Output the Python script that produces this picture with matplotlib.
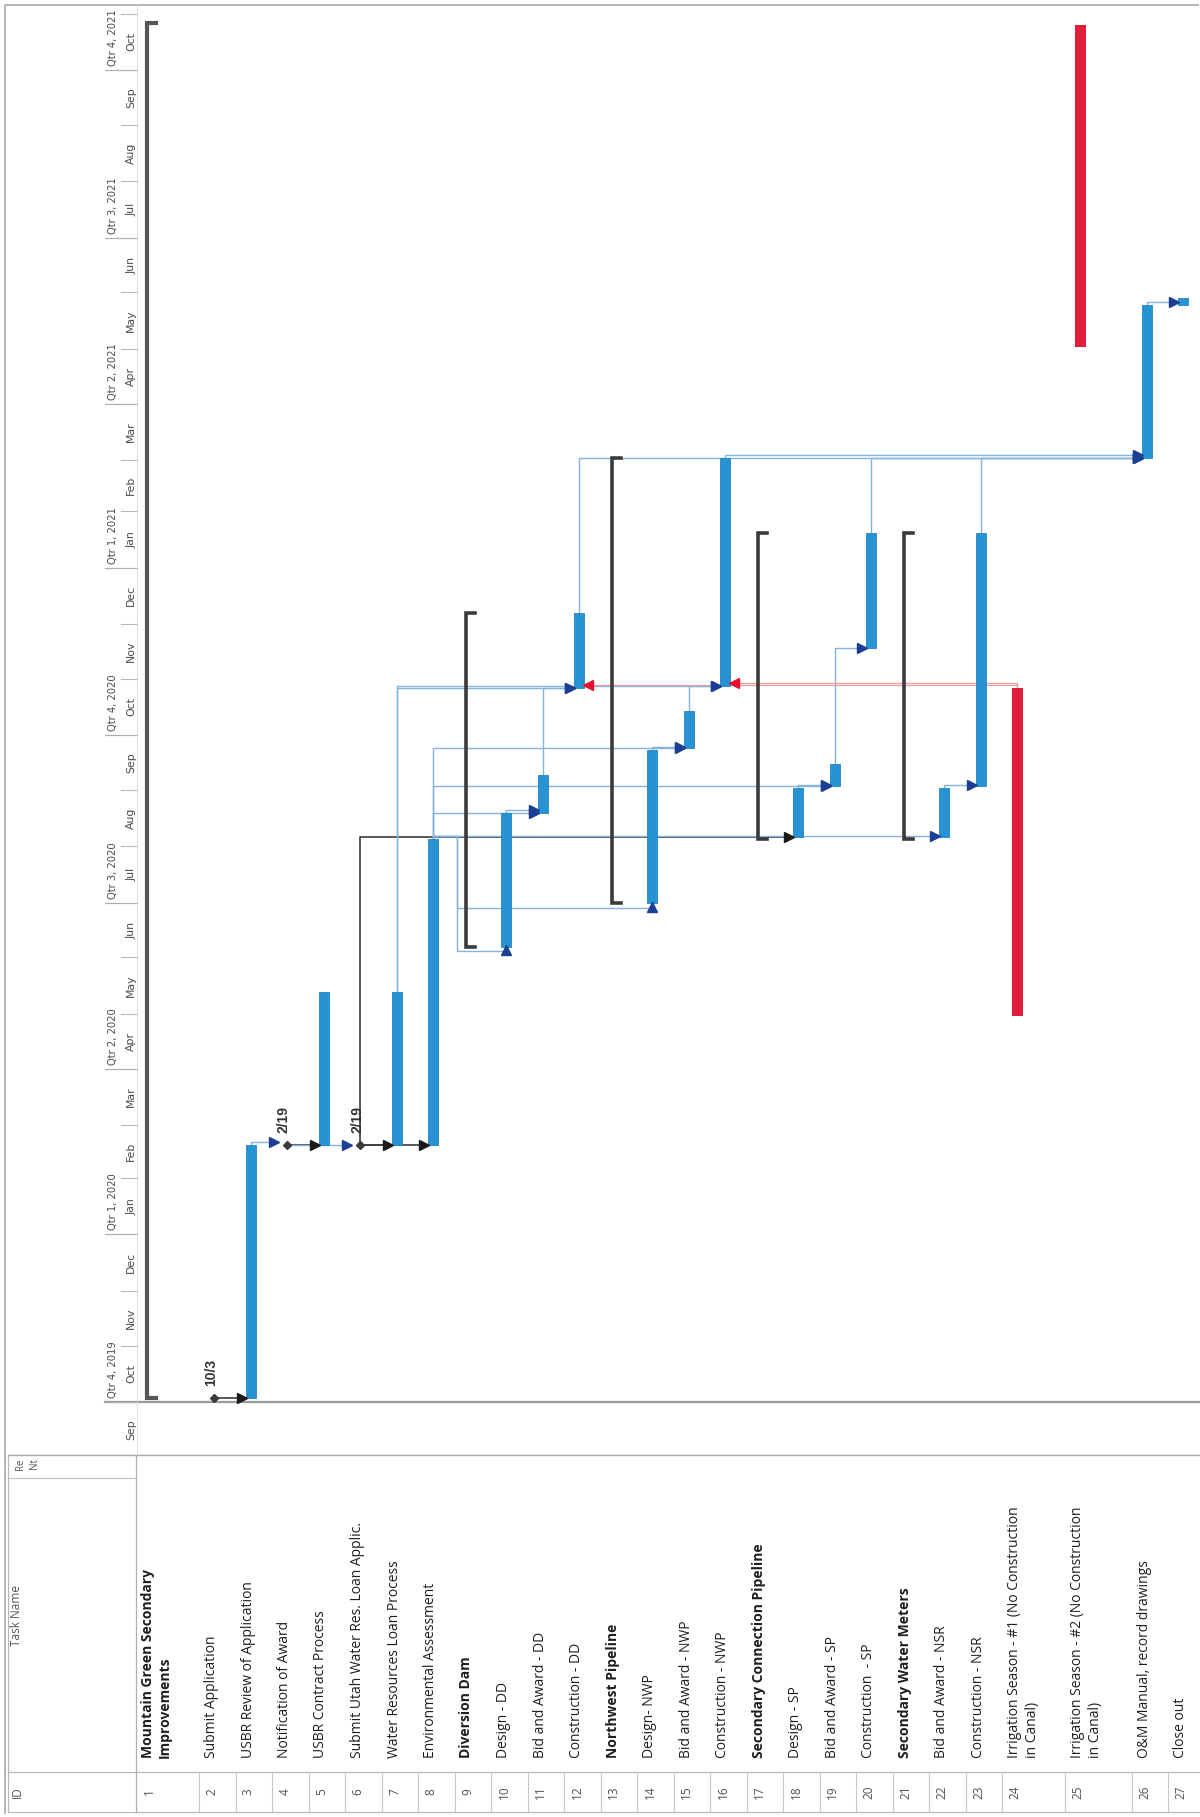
import numpy as np
import pandas as pd
import matplotlib
matplotlib.use("Agg")
import matplotlib.pyplot as plt
import matplotlib.dates as mdates

plt.rcParams['font.family'] = ['Open Sans', 'DejaVu Sans']

# ---------------- data ----------------
task_ids = list(range(1, 28))
task_names = [
    "Mountain Green Secondary\nImprovements",
    "Submit Application",
    "USBR Review of Application",
    "Notification of Award",
    "USBR Contract Process",
    "Submit Utah Water Res. Loan Applic.",
    "Water Resources Loan Process",
    "Environmental Assessment",
    "Diversion Dam",
    "Design - DD",
    "Bid and Award - DD",
    "Construction - DD",
    "Northwest Pipeline",
    "Design- NWP",
    "Bid and Award - NWP",
    "Construction - NWP",
    "Secondary Connection Pipeline",
    "Design - SP",
    "Bid and Award - SP",
    "Construction  - SP",
    "Secondary Water Meters",
    "Bid and Award - NSR",
    "Construction - NSR",
    "Irrigation Season - #1 (No Construction\nin Canal)",
    "Irrigation Season - #2 (No Construction\nin Canal)",
    "O&M Manual, record drawings",
    "Close out",
]
task_types = ['summary', 'milestone', 'task', 'milestone', 'task', 'milestone', 'task', 'task',
              'summary', 'task', 'task', 'task', 'summary', 'task', 'task', 'task',
              'summary', 'task', 'task', 'task', 'summary', 'task', 'task',
              'season', 'season', 'task', 'task']
task_start = ['2019-10-03', '2019-10-03', '2019-10-03', '2020-02-19', '2020-02-19', '2020-02-19',
              '2020-02-19', '2020-02-19', '2020-06-07', '2020-06-07', '2020-08-19', '2020-10-27',
              '2020-07-01', '2020-07-01', '2020-09-24', '2020-10-28', '2020-08-05', '2020-08-06',
              '2020-09-03', '2020-11-18', '2020-08-05', '2020-08-06', '2020-09-03', '2020-04-30',
              '2021-05-02', '2021-03-02', '2021-05-25']
task_finish = ['2021-10-27', '2019-10-03', '2020-02-19', '2020-02-19', '2020-05-13', '2020-02-19',
               '2020-05-13', '2020-08-05', '2020-12-07', '2020-08-19', '2020-09-09', '2020-12-07',
               '2021-03-02', '2020-09-23', '2020-10-14', '2021-03-02', '2021-01-20', '2020-09-02',
               '2020-09-15', '2021-01-20', '2021-01-20', '2020-09-02', '2021-01-20', '2020-10-27',
               '2021-10-26', '2021-05-25', '2021-05-29']
milestone_labels = {2: "10/3", 4: "2/19", 6: "2/19"}

links_pred = [2, 3, 4, 4, 6, 6, 6, 7, 7, 8, 8, 8, 8, 8, 8, 10, 11, 14, 15, 18, 19, 22, 24, 24, 12, 16, 20, 23, 26]
links_succ = [3, 4, 5, 6, 7, 8, 18, 12, 16, 11, 15, 19, 22, 10, 14, 11, 12, 15, 16, 19, 20, 23, 12, 16, 26, 26, 26, 26, 27]
links_color = ['k', 'b', 'k', 'b', 'k', 'k', 'k', 'b', 'b', 'b', 'b', 'b', 'b', 'b', 'b', 'b', 'b', 'b', 'b',
               'b', 'b', 'b', 'r', 'r', 'b', 'b', 'b', 'b', 'b']

# ---------------- layout / style ----------------
W, H, DPI = 1200, 1817, 100
GT, GB = 5, 1455          # gantt area top / bottom (px)
Y_REF_PX, PPD = 1402, 1.822   # px of 2019-10-01 and px per day
row_h = np.array([63] + [36.5] * 22 + [63, 67, 36, 36])
row_x0 = 136 + np.concatenate([[0], np.cumsum(row_h)[:-1]])
bar_x = row_x0 + 15
sum_x = row_x0 + 11

BAR_BLUE = '#2893d2'
RED = '#e11d3c'
SUM_COL = '#3b3b3b'
LINK = {'b': ('#86b3de', '#1c3f94', 1.0),
        'k': ('#3c3c3c', '#1a1a1a', 1.2),
        'r': ('#f19a9a', '#e8102e', 0.9)}

start_num = mdates.date2num(pd.to_datetime(task_start))
fin_num = mdates.date2num(pd.to_datetime(task_finish))
ref = mdates.date2num(pd.Timestamp('2019-10-01'))

fig = plt.figure(figsize=(W / DPI, H / DPI), dpi=DPI)
bg = fig.add_axes([0, 0, 1, 1])
bg.set_xlim(0, W)
bg.set_ylim(H, 0)
bg.axis('off')

ax = fig.add_axes([0, 1 - GB / H, 1, (GB - GT) / H])
ax.set_xlim(0, W)
ax.set_ylim(ref - (GB - Y_REF_PX) / PPD, ref + (Y_REF_PX - GT) / PPD)
ax.axis('off')
ax.patch.set_alpha(0)

def dpx(px):
    return px / PPD

# ---------------- frame ----------------
bg.plot([5, 5, 1198], [1813, 5, 5], color='#b5b5b5', lw=1.4)

# ---------------- timescale ----------------
months = pd.date_range('2019-08-01', '2021-12-01', freq='MS')
for m0, m1 in zip(months[:-1], months[1:]):
    y0 = mdates.date2num(m0)
    y1 = mdates.date2num(m1)
    if m0.month in (1, 4, 7, 10):
        ax.plot([105, 137], [y0, y0], color='#b0b0b0', lw=0.9, clip_on=True)
        q = (m0.month - 1) // 3 + 1
        ax.text(113, y0 + dpx(4), f"Qtr {q}, {m0.year}", rotation=90, rotation_mode='anchor',
                ha='left', va='center', fontsize=7.2, color='#4a4a4a',
                family=['Liberation Sans Narrow', 'DejaVu Sans'], clip_on=True)
    else:
        ax.plot([121, 137], [y0, y0], color='#b8b8b8', lw=0.8, clip_on=True)
    ax.text(131, (y0 + y1) / 2, m0.strftime('%b'), rotation=90, rotation_mode='anchor',
            ha='center', va='center', fontsize=7.8, color='#4a4a4a',
            family=['Liberation Sans Narrow', 'DejaVu Sans'], clip_on=True)
ax.plot([137, 137], [ax.get_ylim()[0], ax.get_ylim()[1]], color='#d8d8d8', lw=0.6)
ax.plot([105, 1200], [ref, ref], color='#9a9a9a', lw=1.6, zorder=1)

# ---------------- links ----------------
HOOK = dpx(3)
for p, s, c in zip(links_pred, links_succ, links_color):
    ip, is_ = p - 1, s - 1
    xp, xs = bar_x[ip], bar_x[is_]
    ep, ss = fin_num[ip], start_num[is_]
    lc, ac, lw = LINK[c]
    gap = 9 if task_types[is_] == 'milestone' else 5
    if c == 'r':
        y = max(ss, ep) + HOOK
        ax.plot([xp, xp, xs + 5], [ep, y, y], color=lc, lw=lw, zorder=2)
        ax.plot(xs + 5 + 4, y, marker='<', ms=6.5, color=ac, zorder=5)
    elif task_types[ip] == 'milestone' or ss >= ep - 0.5:
        y = ss if task_types[ip] == 'milestone' else max(ss, ep + HOOK)
        ax.plot([xp, xp, xs - gap], [ep, y, y], color=lc, lw=lw, zorder=2)
        ax.plot(xs - gap - 4, y, marker='>', ms=6.5, color=ac, zorder=5)
    else:
        y1 = ep + HOOK
        xr = row_x0[ip] + row_h[ip] + 2
        y2 = ss - dpx(5)
        ax.plot([xp, xp, xr, xr, xs], [ep, y1, y1, y2, y2], color=lc, lw=lw, zorder=2)
        ax.plot(xs, ss - dpx(4), marker='^', ms=6.5, color=ac, zorder=5)

# ---------------- bars ----------------
for i, t in enumerate(task_types):
    if t == 'task':
        ax.bar(bar_x[i], fin_num[i] - start_num[i], bottom=start_num[i], width=10,
               color=BAR_BLUE, edgecolor='#1f86c2', linewidth=0.6, zorder=3)
    elif t == 'season':
        ax.bar(bar_x[i], fin_num[i] - start_num[i], bottom=start_num[i], width=11,
               color=RED, linewidth=0, zorder=3)
    elif t == 'summary':
        lwid = 3.0 if i == 0 else 2.6
        col = '#555555' if i == 0 else SUM_COL
        ax.plot([sum_x[i] + 9, sum_x[i], sum_x[i], sum_x[i] + 9],
                [start_num[i], start_num[i], fin_num[i], fin_num[i]],
                color=col, lw=lwid, solid_joinstyle='miter', zorder=3)
    elif t == 'milestone':
        ax.plot(bar_x[i], start_num[i], marker='D', ms=4.5, color='#3a3a3a', zorder=6)
        ax.text(bar_x[i] - 3, start_num[i] + dpx(12), milestone_labels[task_ids[i]],
                rotation=90, rotation_mode='anchor', ha='left', va='center',
                fontsize=10, fontweight='bold', color='#333333',
                family=['Liberation Sans', 'DejaVu Sans'], zorder=6)

# ---------------- table ----------------
TT, TRES, TID, TBOT = 1455, 1478, 1772, 1812
bg.plot([8, 1200], [TT, TT], color='#a8a8a8', lw=1.0)
bg.plot([8, 1200], [TID, TID], color='#b8b8b8', lw=0.9)
bg.plot([8, 1200], [TBOT, TBOT], color='#b8b8b8', lw=0.9)
bg.plot([8, 136], [TRES, TRES], color='#c4c4c4', lw=0.8)
bg.plot([8, 8], [TT, TBOT], color='#b8b8b8', lw=0.9)
bg.plot([136, 136], [TT, TBOT], color='#b0b0b0', lw=0.9)
for xb in list(row_x0[1:]) + [row_x0[-1] + row_h[-1]]:
    bg.plot([xb, xb], [TID, TBOT], color='#c8c8c8', lw=0.8)

bg.text(17, (TID + TBOT) / 2, "ID", rotation=90, ha='center', va='center', fontsize=8.5, color='#555555')
bg.text(17, (TRES + TID) / 2 - 10, "Task Name", rotation=90, ha='center', va='center', fontsize=8.5,
        color='#555555')
bg.text(20, TT + 3, "Re", rotation=90, rotation_mode='anchor', ha='right', va='center', fontsize=7,
        color='#555555')
bg.text(34, TT + 3, "Nt", rotation=90, rotation_mode='anchor', ha='right', va='center', fontsize=7,
        color='#555555')

for i, name in enumerate(task_names):
    bg.text(row_x0[i] + 13, (TID + TBOT) / 2, str(task_ids[i]), rotation=90, rotation_mode='anchor',
            ha='center', va='center', fontsize=8.5, color='#505050')
    bg.text(row_x0[i] + 5, TID - 14, name, rotation=90, rotation_mode='anchor',
            ha='left', va='top', fontsize=10, color='#1e1e1e', linespacing=1.25,
            fontweight='bold' if task_types[i] == 'summary' else 'normal')

fig.savefig('out.png', dpi=DPI)
